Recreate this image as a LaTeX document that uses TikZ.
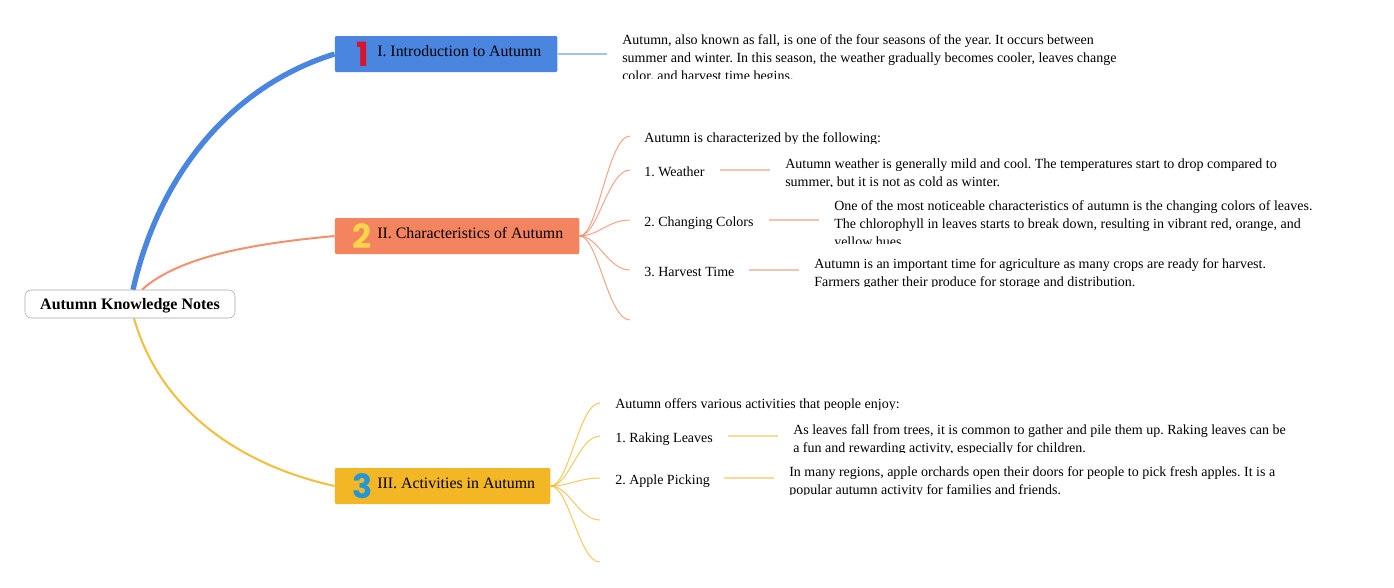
\documentclass[tikz,border=0pt]{standalone}
\usepackage{fontspec}
\setmainfont{Liberation Serif}
\newfontfamily\numfont{Poppins}
\usetikzlibrary{positioning, backgrounds}
\definecolor{myblue}{HTML}{4A86E0}
\definecolor{myorange}{HTML}{F4845F}
\definecolor{myyellow}{HTML}{F3B725}
\definecolor{myred}{HTML}{D9142E}
\definecolor{mygold}{HTML}{FBD44B}
\definecolor{mycyan}{HTML}{2396D8}
\newcommand{\cliptext}[5]{%
  \begin{scope}
    \clip (#2,#3) rectangle (1394,#4);
    \node[bodytext] (#1) at (#2,#3) {#5};
  \end{scope}}
\tikzset{
	rootnode/.style={
			shape=rectangle,
			rounded corners=4.5pt,
			draw=black!35,
			fill=white,
			minimum width=157.5pt,
			minimum height=21pt,
			inner sep=0pt
		},
	roottext/.style={
			inner sep=0pt,
			font=\fontsize{12}{14}\selectfont\bfseries
		},
	topicnode/.style={
			shape=rectangle,
			rounded corners=1pt,
			minimum height=27pt,
			inner sep=0pt,
			anchor=west
		},
	topictext/.style={
			anchor=west,
			inner sep=0pt,
			font=\fontsize{11.9}{14}\selectfont\frenchspacing
		},
	numnode/.style={
			inner sep=0pt,
			font=\fontsize{25}{25}\selectfont\numfont\bfseries
		},
	bodytext/.style={
			anchor=north west,
			inner sep=0pt,
			align=left,
			font=\fontsize{10.5}{13.5}\selectfont\frenchspacing
		},
	branch/.style={line width=0.75pt, opacity=0.75},
	leafline/.style={line width=1.1pt, opacity=0.5}
}
\begin{document}
\begin{tikzpicture}[x=0.75pt,y=-0.75pt]
  \useasboundingbox (0,0) rectangle (1394,587);

  \node[rootnode] (root) at (130,304) {};
  \node[roottext] (rootlabel) at (130,306) {Autumn Knowledge Notes};

  % topics
  \node[topicnode, fill=myblue, minimum width=167pt] (t1) at (334.5,54) {};
  \node[topicnode, fill=myorange, minimum width=183.5pt] (t2) at (334.5,236) {};
  \node[topicnode, fill=myyellow, minimum width=161.75pt] (t3) at (334.5,486) {};
  \node[numnode, text=myred] (n1) at (363,54) {1};
  \node[numnode, text=mygold] (n2) at (362.5,236) {2};
  \node[numnode, text=mycyan] (n3) at (362.5,486) {3};
  \node[topictext] (l1) at (377,51) {I. Introduction to Autumn};
  \node[topictext] (l2) at (377,233) {II. Characteristics of Autumn};
  \node[topictext] (l3) at (377,483) {III. Activities in Autumn};

  % main branches
  \begin{scope}[on background layer]
    \draw[myblue, line width=4pt] ([xshift=2.25pt]root.north) .. controls (160,170) and (235,85) .. (t1.west);
    \draw[myorange, line width=1.5pt, opacity=0.9] ([xshift=9pt]root.north) .. controls (180,255) and (260,243) .. (t2.west);
    \draw[myyellow, line width=1.5pt, opacity=0.9] ([xshift=3pt]root.south) .. controls (160,410) and (240,465) .. (t3.west);
  \end{scope}

  % first topic
  \coordinate (e1) at (607,54);
  \draw[myblue, leafline] (t1.east) -- (e1);
  \cliptext{d1}{622}{34.5}{78.5}{Autumn, also known as fall, is one of the four seasons of the year. It occurs between\\summer and winter. In this season, the weather gradually becomes cooler, leaves change\\color, and harvest time begins.}

  % second topic
  \coordinate (s1) at (630,136);
  \coordinate (s2) at (630,170);
  \coordinate (s3) at (630,220);
  \coordinate (s4) at (630,270);
  \coordinate (s5) at (630,320);
  \foreach \i in {s1,s2,s3,s4,s5}
    \draw[myorange, branch] (t2.east) .. controls (598,236) and (608,0 |- \i) .. (\i);

  \cliptext{c0}{644}{132.5}{143.5}{Autumn is characterized by the following:}
  \cliptext{c1}{644}{166.5}{179}{1. Weather}
  \cliptext{c2}{644}{216.5}{228}{2. Changing Colors}
  \cliptext{c3}{644}{266.5}{279}{3. Harvest Time}
  \cliptext{e2}{785}{158.5}{186.3}{Autumn weather is generally mild and cool. The temperatures start to drop compared to\\summer, but it is not as cold as winter.}
  \cliptext{e3}{834}{200.5}{243.8}{One of the most noticeable characteristics of autumn is the changing colors of leaves.\\The chlorophyll in leaves starts to break down, resulting in vibrant red, orange, and\\yellow hues.}
  \cliptext{e4}{814}{258.5}{286.5}{Autumn is an important time for agriculture as many crops are ready for harvest.\\Farmers gather their produce for storage and distribution.}

  \coordinate (c1a) at (720,170);
  \coordinate (c1b) at (770,170);
  \coordinate (c2a) at (769,220);
  \coordinate (c2b) at (819,220);
  \coordinate (c3a) at (749,270);
  \coordinate (c3b) at (799,270);
  \foreach \i in {1,2,3}
    \draw[myorange, leafline] (c\i a) -- (c\i b);

  % third topic
  \coordinate (y1) at (600,403);
  \coordinate (y2) at (600,436);
  \coordinate (y3) at (600,478);
  \coordinate (y4) at (600,520);
  \coordinate (y5) at (600,562);
  \foreach \i in {y1,y2,y3,y4,y5}
    \draw[myyellow, branch] (t3.east) .. controls (569,486) and (579,0 |- \i) .. (\i);

  \cliptext{a0}{615}{398.5}{409.5}{Autumn offers various activities that people enjoy:}
  \cliptext{a1}{615}{432.5}{444}{1. Raking Leaves}
  \cliptext{a2}{615}{474.5}{486}{2. Apple Picking}
  \cliptext{f1}{793}{424.5}{452.5}{As leaves fall from trees, it is common to gather and pile them up. Raking leaves can be\\a fun and rewarding activity, especially for children.}
  \cliptext{f2}{789}{466.5}{494.5}{In many regions, apple orchards open their doors for people to pick fresh apples. It is a\\popular autumn activity for families and friends.}

  \coordinate (a1a) at (728,436);
  \coordinate (a1b) at (778,436);
  \coordinate (a2a) at (724,478);
  \coordinate (a2b) at (774,478);
  \foreach \i in {1,2}
    \draw[myyellow, leafline] (a\i a) -- (a\i b);

\end{tikzpicture}
\end{document}
